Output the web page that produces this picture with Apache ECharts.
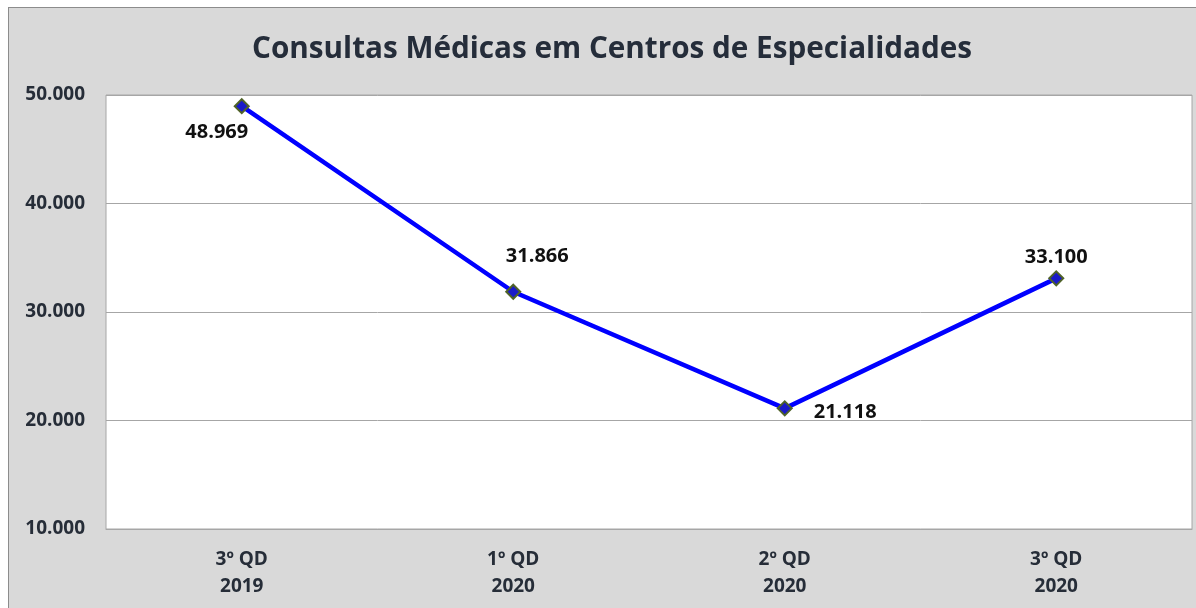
<!DOCTYPE html>
<html>
<head>
<meta charset="utf-8">
<script src="https://cdn.jsdelivr.net/npm/echarts@6/dist/echarts.min.js"></script>
<style>
  html, body { margin: 0; padding: 0; background: #ffffff; }
  #chart {
    position: absolute;
    left: 8px;
    top: 7px;
    width: 1188px;
    height: 601px;
    box-sizing: border-box;
    border-top: 1px solid #8c8c8c;
    border-left: 1px solid #8c8c8c;
    background: #d9d9d9;
  }
</style>
</head>
<body>
<div id="chart"></div>
<script>
// dados
const categories = ['3º QD\n2019', '1º QD\n2020', '2º QD\n2020', '3º QD\n2020']
const consultas = [48969, 31866, 21118, 33100]
// posição de cada rótulo (como no original)
const labelPos = ['bottom', 'top', 'right', 'top']
const labelOffset = [[-25, 3], [24, -12], [16, 4], [0, 2]]

const fontFamily = '"Open Sans", "Noto Sans", sans-serif'

const chart = echarts.init(document.getElementById('chart'))

const fmt = v => v.toLocaleString('de-DE')

const option = {
  backgroundColor: '#d9d9d9',
  animation: false,
  title: {
    text: 'Consultas Médicas em Centros de Especialidades',
    left: 598,
    top: 22,
    textAlign: 'center',
    textStyle: {
      fontFamily,
      fontSize: 29.7,
      fontWeight: 'bold',
      color: '#252d3a'
    }
  },
  grid: {
    left: 97,
    top: 87,
    right: 4,
    bottom: 79,
    show: true,
    backgroundColor: '#ffffff',
    borderColor: '#a6a6a6',
    borderWidth: 1
  },
  xAxis: {
    type: 'category',
    data: categories,
    boundaryGap: true,
    axisTick: { show: false },
    axisLine: { lineStyle: { color: '#a6a6a6' } },
    axisLabel: {
      margin: 17,
      fontFamily,
      fontSize: 19,
      fontWeight: 'bold',
      lineHeight: 27,
      color: '#262d38'
    }
  },
  yAxis: {
    type: 'value',
    min: 10000,
    max: 50000,
    interval: 10000,
    axisLine: { show: false },
    axisTick: { show: false },
    splitLine: { lineStyle: { color: '#a6a6a6' } },
    axisLabel: {
      margin: 21,
      fontFamily,
      fontSize: 19,
      fontWeight: 'bold',
      color: '#262d38',
      formatter: v => fmt(v)
    }
  },
  series: [
    {
      type: 'line',
      data: consultas.map((v, i) => ({
        value: v,
        label: { position: labelPos[i], offset: labelOffset[i] }
      })),
      lineStyle: { color: '#0000ff', width: 4.5 },
      symbol: 'diamond',
      symbolSize: 14,
      itemStyle: { color: '#1a1ac8', borderColor: '#4f6228', borderWidth: 2 },
      label: {
        show: true,
        fontFamily,
        fontSize: 20,
        fontWeight: 'bold',
        color: '#111111',
        formatter: p => fmt(p.value)
      }
    }
  ]
}

chart.setOption(option)
window.addEventListener('resize', () => chart.resize())
</script>
</body>
</html>
